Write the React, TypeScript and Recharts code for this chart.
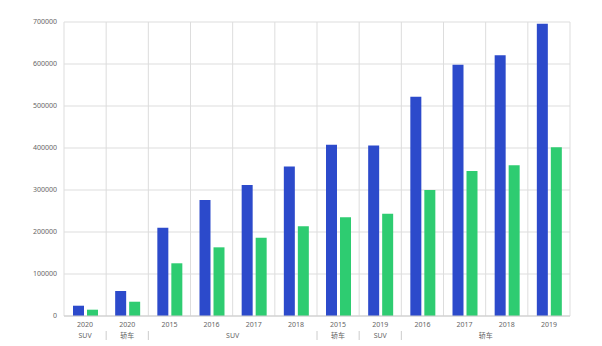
import { BarChart, Bar, XAxis, YAxis, CartesianGrid } from 'recharts';

const years = ['2020', '2020', '2015', '2016', '2017', '2018', '2015', '2019', '2016', '2017', '2018', '2019'];
const groups = ['SUV', '轿车', 'SUV', 'SUV', 'SUV', 'SUV', '轿车', 'SUV', '轿车', '轿车', '轿车', '轿车'];
const blueValues = [24500, 59500, 210000, 276000, 312000, 356000, 408000, 406000, 522000, 598000, 621000, 696000];
const greenValues = [15000, 34000, 125500, 163500, 186500, 213500, 235000, 243500, 300000, 345000, 359000, 402000];
const yTicks = [0, 100000, 200000, 300000, 400000, 500000, 600000, 700000];

const chartData = years.map((year, i) => ({
  year,
  group: groups[i],
  a: blueValues[i],
  b: greenValues[i],
}));

const WIDTH = 602;
const HEIGHT = 346;
const MARGIN = { top: 22, right: 32, left: 0, bottom: 0 };
const Y_WIDTH = 64;
const FONT = '"Noto Sans", "Noto Sans CJK SC", sans-serif';

function GroupTick(props: any) {
  const { x, y, payload } = props;
  const i = payload.index;
  const half =
    payload.offset || (WIDTH - MARGIN.left - MARGIN.right - Y_WIDTH) / years.length / 2;
  if (i > 0 && groups[i] === groups[i - 1]) return <g />;
  let n = 1;
  while (i + n < groups.length && groups[i + n] === groups[i]) n++;
  return (
    <g>
      {i > 0 && (
        <line x1={x - half} x2={x - half} y1={y + 1} y2={y + 10} stroke="#ccc" />
      )}
      <text
        x={x + (n - 1) * half}
        y={y + 6}
        dy="0.35em"
        textAnchor="middle"
        fontSize={7}
        fill="#666"
        fontFamily={FONT}
      >
        {groups[i]}
      </text>
    </g>
  );
}

export default function App() {
  return (
    <div style={{ position: 'absolute', left: 0, top: 0, background: '#fff' }}>
      <BarChart
        width={WIDTH}
        height={HEIGHT}
        data={chartData}
        margin={MARGIN}
        barSize={11}
        barGap={3}
      >
        <CartesianGrid
          stroke="#ddd"
          verticalCoordinatesGenerator={({ offset }: any) =>
            years.map((_, i) => offset.left + (i * offset.width) / years.length).concat(
              offset.left + offset.width
            )
          }
        />
        <XAxis
          dataKey="year"
          interval={0}
          height={14}
          tickLine={false}
          tickSize={4}
          tickMargin={2}
          axisLine={{ stroke: '#ccc' }}
          tick={{ fontSize: 7, fill: '#666', fontFamily: FONT }}
        />
        <XAxis
          xAxisId="group"
          dataKey="group"
          interval={0}
          height={16}
          tickLine={false}
          axisLine={false}
          tickSize={0}
          tickMargin={0}
          tick={<GroupTick />}
        />
        <YAxis
          width={Y_WIDTH}
          domain={[0, 700000]}
          ticks={yTicks}
          axisLine={false}
          tickLine={false}
          tickSize={5}
          tickMargin={2}
          tick={{ fontSize: 7, fill: '#666', fontFamily: FONT }}
        />
        <Bar dataKey="a" fill="#2c4acb" isAnimationActive={false} />
        <Bar dataKey="b" fill="#2ecc71" isAnimationActive={false} />
      </BarChart>
    </div>
  );
}
